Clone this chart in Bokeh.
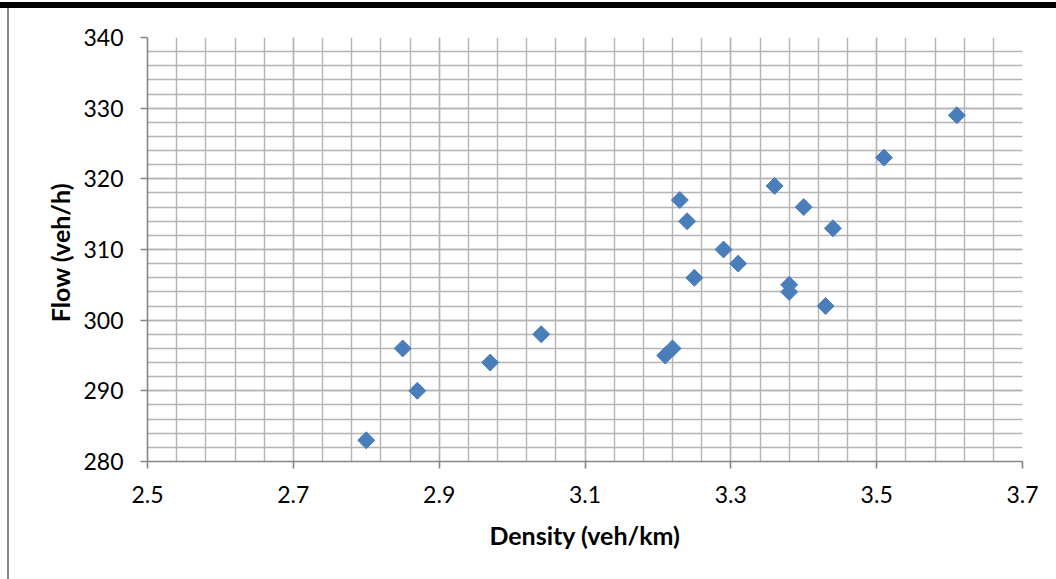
from bokeh.plotting import figure
from bokeh.models import FixedTicker, Range1d, InlineStyleSheet
from bokeh.embed import file_html
from bokeh.resources import INLINE
import math

density = [2.80, 2.85, 2.87, 2.97, 3.04, 3.21, 3.22, 3.23, 3.24, 3.25,
           3.29, 3.31, 3.36, 3.38, 3.38, 3.40, 3.43, 3.44, 3.51, 3.61]
flow = [283, 296, 290, 294, 298, 295, 296, 317, 314, 306,
        310, 308, 319, 305, 304, 316, 302, 313, 323, 329]

x_ticks = [2.5, 2.7, 2.9, 3.1, 3.3, 3.5, 3.7]
y_ticks = [280, 290, 300, 310, 320, 330, 340]
x_minor = [round(2.5 + 0.04 * i, 2) for i in range(31)]
y_minor = [280 + 2 * i for i in range(31)]

FONT = "Lato"
GRID = "#b4b4b4"
AXIS = "#868686"

p = figure(width=1056, height=579, output_backend="svg", toolbar_location=None,
           x_range=Range1d(2.5, 3.7), y_range=Range1d(280, 340),
           min_border_left=147, min_border_right=34, min_border_top=37, min_border_bottom=118)
p.outline_line_color = None
p.background_fill_color = "white"
p.border_fill_color = "white"

p.xaxis.ticker = FixedTicker(ticks=x_ticks, minor_ticks=x_minor)
p.yaxis.ticker = FixedTicker(ticks=y_ticks, minor_ticks=y_minor)

for g in (p.xgrid[0], p.ygrid[0]):
    g.grid_line_color = GRID
    g.grid_line_width = 1.4
    g.minor_grid_line_color = GRID
    g.minor_grid_line_width = 1.4

for ax in (p.xaxis[0], p.yaxis[0]):
    ax.axis_line_color = AXIS
    ax.axis_line_width = 1.6
    ax.major_tick_line_color = AXIS
    ax.major_tick_line_width = 1.6
    ax.major_tick_out = 7
    ax.major_tick_in = 0
    ax.minor_tick_line_color = None
    ax.major_label_text_font = FONT
    ax.major_label_text_font_size = "23px"
    ax.major_label_text_color = "black"
    ax.axis_label_text_font = FONT
    ax.axis_label_text_font_size = "25px"
    ax.axis_label_text_font_style = "bold"
    ax.axis_label_text_color = "black"

p.xaxis.axis_label = "Density (veh/km)"
p.yaxis.axis_label = "Flow  (veh/h)"
p.xaxis.major_label_standoff = 17
p.xaxis.axis_label_standoff = 14
p.yaxis.major_label_standoff = 17
p.yaxis.axis_label_standoff = 5

p.scatter(density, flow, marker="square", size=12, angle=math.pi / 4,
          fill_color="#4a7ebb", line_color="#4a7ebb")

# page decoration: top black bar and left gray line
p.stylesheets = [InlineStyleSheet(css="""
:host { position: relative; }
:host::before { content: ''; position: absolute; left: 0px; top: 2px; width: 1056px; height: 6px;
                background: black; z-index: 100; pointer-events: none; }
:host::after { content: ''; position: absolute; left: 7px; top: 8px; width: 2px; height: 571px;
               background: #868686; z-index: 100; pointer-events: none; }
""")]

open("out.html", "w").write(file_html(p, INLINE))
